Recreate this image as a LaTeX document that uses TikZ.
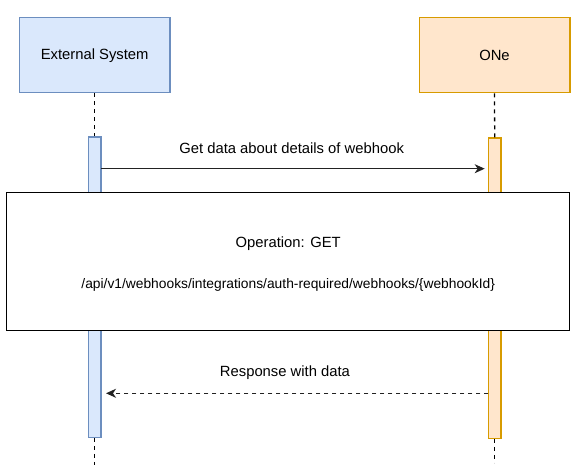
\documentclass[tikz,border=0pt]{standalone}
\usepackage{fontspec}
\setmainfont{Liberation Sans}
\usetikzlibrary{arrows.meta}
\definecolor{bfill}{HTML}{DAE8FC}
\definecolor{bdraw}{HTML}{6C8EBF}
\definecolor{ofill}{HTML}{FFE6CC}
\definecolor{odraw}{HTML}{D79B00}
\definecolor{lnclr}{HTML}{222222}
\begin{document}
\begin{tikzpicture}[x=1pt,y=-1pt,
  font=\fontsize{14.8}{17}\selectfont,
  actor/.style={draw, line width=1.3pt, minimum width=150.7pt, minimum height=75pt, inner sep=0pt},
  bar/.style={draw, line width=1.3pt, minimum width=12.7pt, minimum height=300.4pt, inner sep=0pt, anchor=north},
  lifeline/.style={line width=1.3pt, dash pattern=on 4pt off 4pt},
  msg/.style={line width=1.3pt, draw=lnclr, -{Stealth[length=10pt,width=9pt,inset=3pt]}},
  txt/.style={inner sep=0pt}
]
\useasboundingbox (0,0) rectangle (582,473);
% actors
\node[actor, fill=bfill, draw=bdraw] (ext) at (94.7,55.2) {External System};
\node[actor, fill=ofill, draw=odraw] (one) at (494.5,55.2) {ONe};
% activation bars
\node[bar, fill=bfill, draw=bdraw] (barL) at (94.7,136.3) {};
\node[bar, fill=ofill, draw=odraw] (barR) at (494.7,137.3) {};
% lifelines
\coordinate (endL) at (94.7,465);
\coordinate (endR) at (494.7,463);
\draw[lifeline] (ext.south) -- (barL.north);
\draw[lifeline] (one.south) -- (barR.north);
\draw[lifeline] (barL.south) -- (endL);
\draw[lifeline] (barR.south) -- (endR);
% request
\coordinate (reqS) at (101,168.7);
\coordinate (reqE) at (488.3,168.7);
\draw[msg, shorten >=3.6pt] (reqS) -- node[txt, midway, xshift=-3pt, yshift=20.7pt] (lblReq) {Get data about details of webhook} (reqE);
% operation box
\node[draw, line width=1.3pt, fill=white, minimum width=563pt, minimum height=137.6pt, inner sep=0pt] (op) at (288.2,261.5) {};
\node[txt] (opT) at ([yshift=18.2pt]op.center) {Operation: GET};
\node[txt, font=\fontsize{13.8}{16}\selectfont] (pathT) at ([yshift=-23.5pt]op.center) {/api/v1/webhooks/integrations/auth-required/webhooks/\{webhookId\}};
% response
\coordinate (resS) at (488.3,393.3);
\coordinate (resE) at (101,393.3);
\draw[msg, dash pattern=on 4pt off 4pt, shorten >=5pt] (resS) -- node[txt, pos=0.525, yshift=20.3pt] (lblRes) {Response with data} (resE);
\end{tikzpicture}
\end{document}
